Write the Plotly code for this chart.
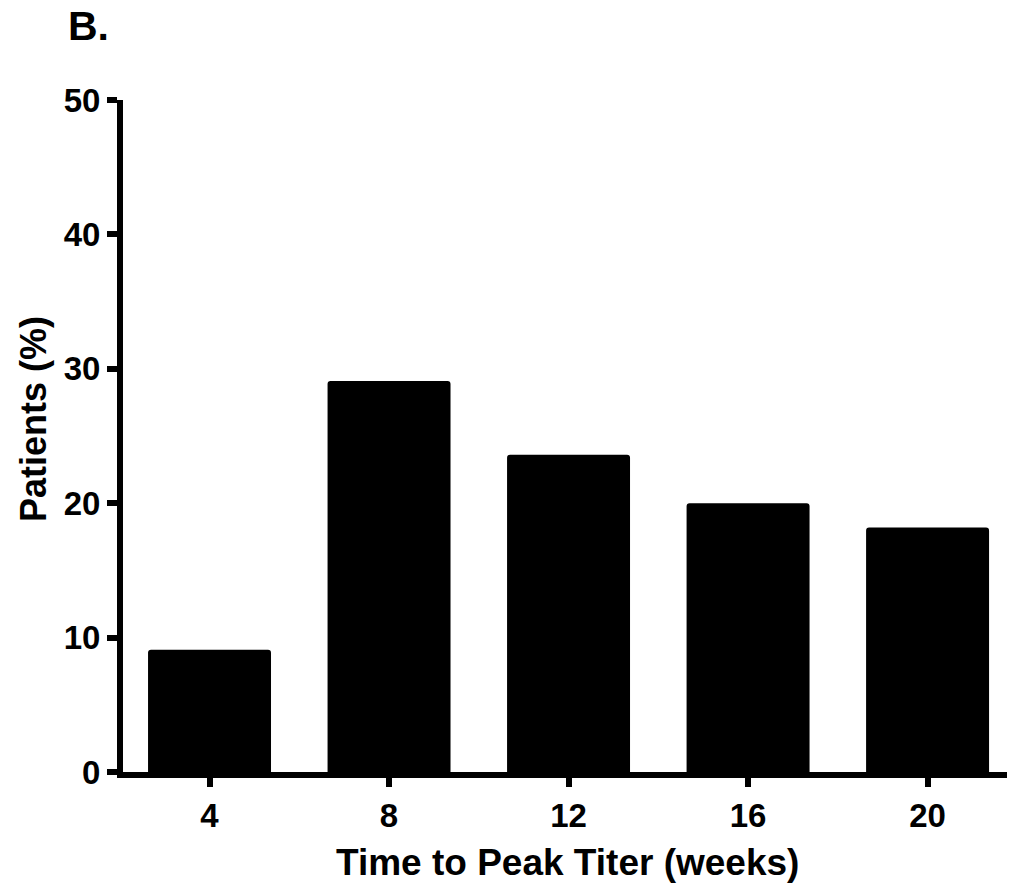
import plotly.graph_objects as go

categories = ["4", "8", "12", "16", "20"]
values = [9.1, 29.1, 23.6, 20.0, 18.2]
y_ticks = [0, 10, 20, 30, 40, 50]
x_title = "Time to Peak Titer (weeks)"
y_title = "Patients (%)"
panel_label = "B."

positions = list(range(len(categories)))

fig = go.Figure(go.Bar(
    x=positions, y=values, width=0.685,
    marker=dict(color="black", line=dict(width=0)),
))

ff = "Liberation Sans, Arial, sans-serif"
OFF = 8  # default page body margin
W, H = 1015 - OFF, 888 - OFF
L, R, T, B = 115, 0, 92, 116
pw, ph = W - L - R, H - T - B


def px_x(p):
    return (p - OFF - L) / pw


def px_y(p):
    return (H - B - (p - OFF)) / ph


fig.update_layout(
    width=W, height=H,
    margin=dict(l=L, r=R, t=T, b=B, autoexpand=False),
    paper_bgcolor="white", plot_bgcolor="white",
    barcornerradius=3,
    showlegend=False,
    font=dict(family=ff, color="black"),
    annotations=[
        dict(text=f"<b>{panel_label}</b>", xref="paper", yref="paper",
             x=px_x(66), y=px_y(26), xanchor="left", yanchor="middle",
             showarrow=False, font=dict(size=41, family=ff, color="black")),
        dict(text=f"<b>{y_title}</b>", xref="paper", yref="paper", textangle=-90,
             x=px_x(33), y=px_y(419), xanchor="center", yanchor="middle",
             showarrow=False, font=dict(size=36, family=ff, color="black")),
        dict(text=f"<b>{x_title}</b>", xref="paper", yref="paper",
             x=px_x(567), y=px_y(862), xanchor="center", yanchor="middle",
             showarrow=False, font=dict(size=37, family=ff, color="black")),
    ],
)

fig.update_xaxes(
    range=[-0.482, 4.487], tickvals=positions, ticktext=[f"<b>{c}</b>" for c in categories],
    showline=True, linewidth=6, linecolor="black", automargin=False,
    ticks="outside", ticklen=9, tickwidth=6, tickcolor="black",
    tickfont=dict(size=33, family=ff, color="black"),
    showgrid=False, zeroline=False,
)
fig.update_yaxes(
    range=[0, 50], tickvals=y_ticks, ticktext=[f"<b>{t}</b>" for t in y_ticks],
    showline=True, linewidth=6, linecolor="black", automargin=False,
    ticks="outside", ticklen=10, tickwidth=6, tickcolor="black",
    tickfont=dict(size=33, family=ff, color="black"),
    showgrid=False, zeroline=False,
)

fig.write_html("out.html")
